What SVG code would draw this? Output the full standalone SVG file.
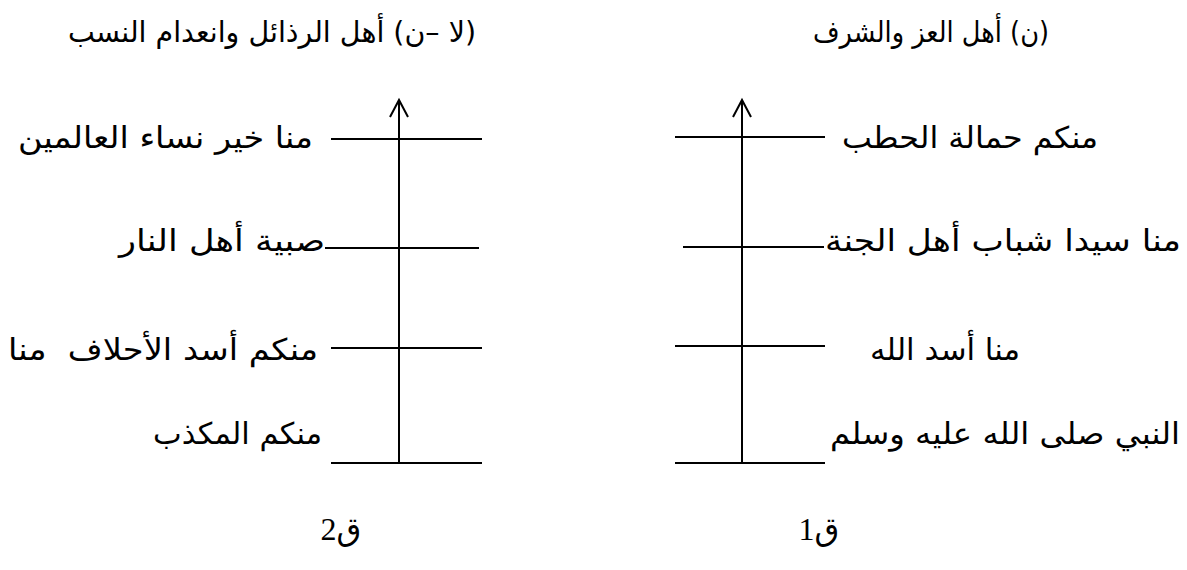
<svg xmlns="http://www.w3.org/2000/svg" width="1187" height="570" viewBox="0 0 1187 570">
<style>
.ln{stroke:#000;stroke-width:2;fill:none}
.ar{font-family:"DejaVu Sans",sans-serif;font-size:30px;fill:#000;text-anchor:middle;direction:rtl;white-space:pre}
.tt{font-family:"DejaVu Sans",sans-serif;font-size:29px;fill:#000;text-anchor:middle;direction:rtl}
.lbl{font-family:"Liberation Serif","DejaVu Sans",serif;font-size:32px;fill:#000;text-anchor:middle;direction:rtl}
</style>
<rect width="1187" height="570" fill="#fff"/>
<g id="connectors">
<line class="ln" x1="399" y1="463" x2="399" y2="100"/>
<polyline class="ln" points="390,117 399,100 408,117"/>
<line class="ln" x1="331" y1="139" x2="482" y2="139"/>
<line class="ln" x1="325" y1="248" x2="479" y2="248"/>
<line class="ln" x1="331" y1="348" x2="482" y2="348"/>
<line class="ln" x1="331" y1="463" x2="482" y2="463"/>
<line class="ln" x1="742" y1="463" x2="742" y2="100"/>
<polyline class="ln" points="733,117 742,100 751,117"/>
<line class="ln" x1="675" y1="137" x2="825" y2="137"/>
<line class="ln" x1="683" y1="247" x2="824" y2="247"/>
<line class="ln" x1="675" y1="346" x2="825" y2="346"/>
<line class="ln" x1="675" y1="463" x2="825" y2="463"/>
</g>
<g id="title-left"><text class="tt" x="272" y="42" textLength="408" lengthAdjust="spacingAndGlyphs">(لا –ن) أهل الرذائل وانعدام النسب</text></g>
<g id="title-right"><text class="tt" x="931" y="42" textLength="236" lengthAdjust="spacingAndGlyphs">(ن) أهل العز والشرف</text></g>
<g id="l1"><text class="ar" x="165.5" y="148" textLength="295" lengthAdjust="spacingAndGlyphs">منا خير نساء العالمين</text></g>
<g id="l2"><text class="ar" x="222" y="251" textLength="206" lengthAdjust="spacingAndGlyphs">صبية أهل النار</text></g>
<g id="l3"><text class="ar" x="163" y="360" textLength="310" lengthAdjust="spacingAndGlyphs" xml:space="preserve">منكم أسد الأحلاف  منا</text></g>
<g id="l4"><text class="ar" x="237.5" y="444" textLength="169" lengthAdjust="spacingAndGlyphs">منكم المكذب</text></g>
<g id="r1"><text class="ar" x="970" y="148" textLength="256" lengthAdjust="spacingAndGlyphs">منكم حمالة الحطب</text></g>
<g id="r2"><text class="ar" x="1003" y="251" textLength="356" lengthAdjust="spacingAndGlyphs">منا سيدا شباب أهل الجنة</text></g>
<g id="r3"><text class="ar" x="945" y="360" textLength="150" lengthAdjust="spacingAndGlyphs">منا أسد الله</text></g>
<g id="r4"><text class="ar" x="1005" y="444" textLength="350" lengthAdjust="spacingAndGlyphs">النبي صلى الله عليه وسلم</text></g>
<g id="q2"><text class="lbl" x="341" y="540">ق2</text></g>
<g id="q1"><text class="lbl" x="819" y="540">ق1</text></g>
</svg>
